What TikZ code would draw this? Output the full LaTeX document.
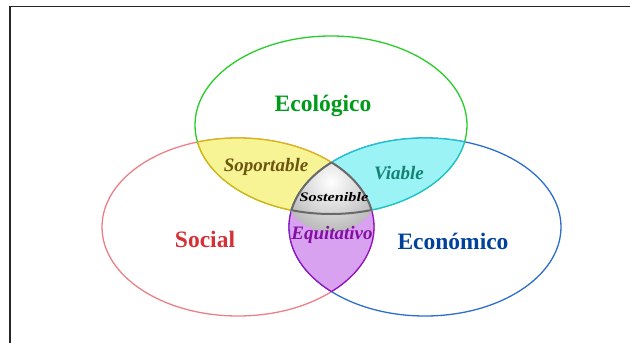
\documentclass[tikz,border=0pt]{standalone}
\usepackage{fontspec}
\setmainfont{Liberation Serif}
\usetikzlibrary{positioning}

\definecolor{socialLine}{RGB}{236,128,134}
\definecolor{ecoLine}{RGB}{40,205,40}
\definecolor{econLine}{RGB}{45,110,205}
\definecolor{socialText}{RGB}{212,48,56}
\definecolor{ecoText}{RGB}{0,155,25}
\definecolor{econText}{RGB}{0,65,155}
\definecolor{soporFill}{RGB}{247,244,150}
\definecolor{soporLine}{RGB}{218,180,20}
\definecolor{soporText}{RGB}{110,85,15}
\definecolor{viaFill}{RGB}{155,243,246}
\definecolor{viaLine}{RGB}{30,195,208}
\definecolor{viaText}{RGB}{20,130,115}
\definecolor{equiFill}{RGB}{216,162,240}
\definecolor{equiLine}{RGB}{145,20,195}
\definecolor{equiText}{RGB}{130,15,160}
\definecolor{sosLine}{RGB}{105,105,105}

% the three circles of the diagram
\def\socialP{(238,227) ellipse [x radius=136, y radius=89]}
\def\ecoP{(331,125) ellipse [x radius=136, y radius=89]}
\def\econP{(425,227) ellipse [x radius=136, y radius=89]}

\tikzset{
    big/.style={font=\fontsize{23.5}{25}\selectfont\bfseries},
    lens/.style={font=\fontsize{19}{21}\selectfont\bfseries\itshape},
    ring/.style={line width=1.3pt}
}

\begin{document}
\begin{tikzpicture}[x=1pt, y=-1pt]

            \useasboundingbox (0,0) rectangle (630,343);
            \draw[black!85, line width=1.6pt] (10,343) -- (10,6.5) -- (630,6.5);

            \draw[ring, socialLine] \socialP;
            \draw[ring, ecoLine] \ecoP;
            \draw[ring, econLine] \econP;

            % Soportable
            \begin{scope}
                \clip \socialP;
                \fill[soporFill] \ecoP;
                \draw[ring, soporLine] \ecoP;
            \end{scope}
            \begin{scope}
                \clip \ecoP;
                \draw[ring, soporLine] \socialP;
            \end{scope}

            % Viable
            \begin{scope}
                \clip \econP;
                \fill[viaFill] \ecoP;
                \draw[ring, viaLine] \ecoP;
            \end{scope}
            \begin{scope}
                \clip \ecoP;
                \draw[ring, viaLine] \econP;
            \end{scope}

            % Equitativo
            \begin{scope}
                \clip \socialP;
                \fill[equiFill] \econP;
                \draw[ring, equiLine] \econP;
            \end{scope}
            \begin{scope}
                \clip \econP;
                \draw[ring, equiLine] \socialP;
            \end{scope}

            % Sostenible
            \begin{scope}
                \clip \socialP;
                \clip \econP;
                \shade[inner color=white, outer color=black!27] (331,182) circle (50);
                \draw[line width=2pt, sosLine] \ecoP;
            \end{scope}
            \begin{scope}
                \clip \ecoP;
                \clip \econP;
                \draw[line width=2pt, sosLine] \socialP;
            \end{scope}
            \begin{scope}
                \clip \ecoP;
                \clip \socialP;
                \draw[line width=2pt, sosLine] \econP;
            \end{scope}

            \node[big, text=ecoText] (eco) at (323,106) {Ecológico};
            \node[big, text=socialText] (social) at (205,239) {Social};
            \node[big, text=econText] (econ) at (453,241) {Económico};

            \node[lens, text=soporText] (sopor) at (266,167) {Soportable};
            \node[lens, text=viaText] (via) at (399,173) {Viable};
            \node[lens, text=equiText] (equi) at (332,235) {Equitativo};
            \node[font=\fontsize{13}{14}\selectfont\bfseries\itshape, xscale=1.25] (sos) at (334,197) {Sostenible};
        \end{tikzpicture}
\end{document}
